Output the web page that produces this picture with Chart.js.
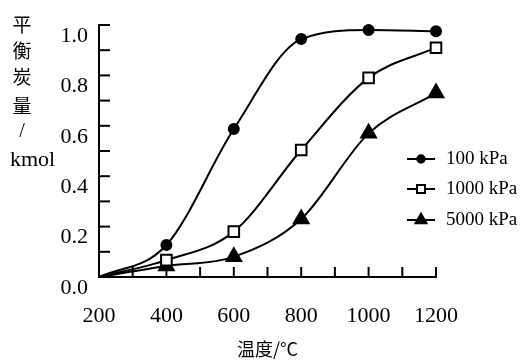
<!DOCTYPE html>
<html>
<head>
<meta charset="utf-8">
<script src="https://cdn.jsdelivr.net/npm/chart.js@4"></script>
<style>
  html, body { margin: 0; padding: 0; background: #fff; }
  #wrap { width: 523px; height: 360px; }
</style>
</head>
<body>
<div id="wrap"><canvas id="chart" width="523" height="360"></canvas></div>
<script>
// values
const temps = [200, 400, 600, 800, 1000, 1200];
const p100 = [0, 0.127, 0.587, 0.944, 0.98, 0.975];
const p1000 = [0, 0.067, 0.18, 0.504, 0.79, 0.91];
const p5000 = [0, 0.044, 0.08, 0.23, 0.57, 0.73];
const seriesNames = ["100 kPa", "1000 kPa", "5000 kPa"];
const yTitleChars = ["平", "衡", "炭", "量", "/"];
const yUnit = "kmol";
const xTitle = "温度/°C";

const serif = "'Liberation Serif', 'Times New Roman', 'Noto Sans CJK SC', serif";
const cjk = "'Noto Sans CJK SC', 'Liberation Serif', serif";

function toPoints(values) {
  return temps.map((t, i) => ({ x: t, y: values[i] }));
}

function makeSet(label, values, style, radius, fill) {
  return {
    label,
    data: toPoints(values),
    borderColor: "#000",
    borderWidth: 2,
    backgroundColor: fill,
    pointStyle: style,
    pointRadius: (c) => (c.dataIndex === 0 ? 0 : radius),
    pointBorderColor: "#000",
    pointBorderWidth: 2,
    pointBackgroundColor: fill,
    cubicInterpolationMode: "monotone",
    fill: false,
    clip: false,
    legendRadius: radius * 0.75,
  };
}

// tick marks point into the plot
const inwardTicks = {
  id: "inwardTicks",
  afterDraw(chart) {
    const { ctx, chartArea, scales } = chart;
    ctx.save();
    ctx.strokeStyle = "#000";
    ctx.lineWidth = 2;
    scales.y.ticks.forEach((t) => {
      if (t.value === 0) return;
      const py = scales.y.getPixelForValue(t.value);
      ctx.beginPath();
      ctx.moveTo(chartArea.left, py);
      ctx.lineTo(chartArea.left + 11, py);
      ctx.stroke();
    });
    scales.x.ticks.forEach((t) => {
      if (t.value === 200) return;
      const px = scales.x.getPixelForValue(t.value);
      ctx.beginPath();
      ctx.moveTo(px, chartArea.bottom);
      ctx.lineTo(px, chartArea.bottom - 10);
      ctx.stroke();
    });
    ctx.restore();
  },
};

const yAxisTitle = {
  id: "yAxisTitle",
  afterDraw(chart) {
    const ctx = chart.ctx;
    ctx.save();
    ctx.fillStyle = "#000";
    ctx.textAlign = "center";
    ctx.textBaseline = "middle";
    ctx.font = "19px " + cjk;
    const ys = [25, 51, 77, 106, 132];
    yTitleChars.forEach((ch, i) => {
      if (ch === "/") ctx.font = "20px " + serif;
      ctx.fillText(ch, 22, ys[i]);
    });
    ctx.font = "22px " + serif;
    ctx.textAlign = "left";
    ctx.textBaseline = "alphabetic";
    ctx.fillText(yUnit, 10, 166);
    ctx.restore();
  },
};

const sideLegend = {
  id: "sideLegend",
  afterDraw(chart) {
    const ctx = chart.ctx;
    const rows = [159, 189, 220];
    ctx.save();
    chart.data.datasets.forEach((ds, i) => {
      const y = rows[i];
      ctx.strokeStyle = "#000";
      ctx.lineWidth = 2;
      ctx.beginPath();
      ctx.moveTo(407, y);
      ctx.lineTo(435, y);
      ctx.stroke();
      ctx.fillStyle = ds.pointBackgroundColor;
      Chart.helpers.drawPoint(ctx, {
        pointStyle: ds.pointStyle,
        radius: ds.legendRadius,
        borderWidth: 2,
        rotation: 0,
      }, 421, y);
      ctx.fillStyle = "#000";
      ctx.font = "19px " + serif;
      ctx.textAlign = "left";
      ctx.textBaseline = "middle";
      ctx.fillText(ds.label, 446, y);
    });
    ctx.restore();
  },
};

new Chart(document.getElementById("chart"), {
  type: "line",
  data: {
    datasets: [
      makeSet(seriesNames[0], p100, "circle", 5, "#000"),
      makeSet(seriesNames[1], p1000, "rect", 7.5, "#fff"),
      makeSet(seriesNames[2], p5000, "triangle", 8.5, "#000"),
    ],
  },
  options: {
    responsive: false,
    animation: false,
    devicePixelRatio: 1,
    layout: { padding: { top: 25, right: 87, left: 0, bottom: 0 } },
    plugins: {
      legend: { display: false },
      tooltip: { enabled: false },
    },
    scales: {
      x: {
        type: "linear",
        min: 200,
        max: 1200,
        grid: { display: false, drawTicks: false },
        border: { color: "#000", width: 2 },
        ticks: {
          stepSize: 100,
          color: "#000",
          font: { family: serif, size: 22 },
          padding: 26,
          maxRotation: 0,
          autoSkip: false,
          callback: (v) => (v % 200 === 0 ? String(v) : ""),
        },
        title: {
          display: true,
          text: xTitle,
          color: "#000",
          font: { family: cjk, size: 18 },
          padding: { top: 0, bottom: 0 },
        },
        afterFit: (s) => { s.height = 83; },
      },
      y: {
        min: 0,
        max: 1,
        grid: { display: false, drawTicks: false },
        border: { color: "#000", width: 2 },
        ticks: {
          stepSize: 0.1,
          color: "#000",
          font: { family: serif, size: 22 },
          padding: 11,
          labelOffset: 11,
          autoSkip: false,
          callback: (v) => (Math.round(v * 10) % 2 === 0 ? v.toFixed(1) : ""),
        },
        afterFit: (s) => { s.width = 99; },
      },
    },
  },
  plugins: [inwardTicks, yAxisTitle, sideLegend],
});
</script>
</body>
</html>
